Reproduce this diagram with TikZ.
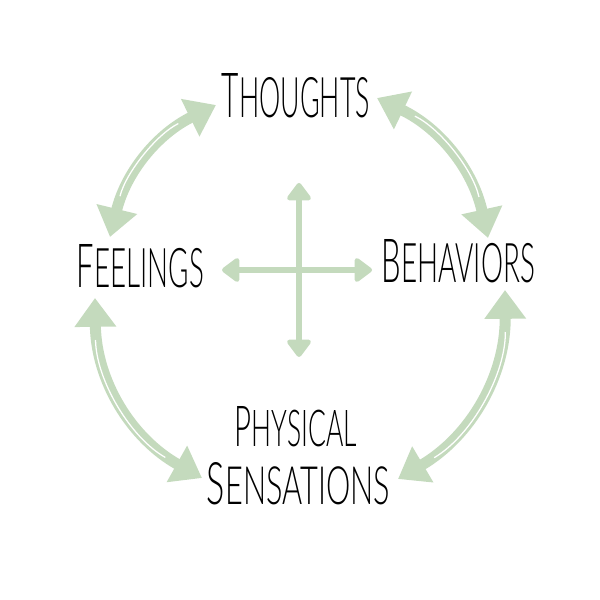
\documentclass[tikz,border=0pt]{standalone}
\usepackage{fontspec}
\setmainfont{Lato}[UprightFont={* Light}]
\usetikzlibrary{arrows.meta}
\definecolor{sage}{RGB}{196,218,189}
\newcommand{\capword}[4]{\resizebox{#3}{#4}{\fontsize{40}{40}\selectfont #1\fontsize{36}{36}\selectfont #2}}
\tikzset{
  lbl/.style={inner sep=0pt, outer sep=0pt, text=black},
  cyc/.style={draw=sage, line width=11*0.025cm, {Triangle[width=1.0cm,length=0.72cm]}-{Triangle[width=1.0cm,length=0.72cm]}},
  stripe/.style={draw=white, line width=0.9pt, shorten <=1.05cm, shorten >=1.05cm},
  cross/.style={draw=sage, line width=6.5*0.025cm, {Triangle[width=0.68cm,length=0.48cm,round]}-{Triangle[width=0.68cm,length=0.48cm,round]}}
}
\begin{document}
\begin{tikzpicture}[x=0.025cm,y=0.025cm]
\useasboundingbox (0,0) rectangle (600,600);
% labels
\node[lbl] (th) at (296,504) {\capword{T}{HOUGHTS}{3.7cm}{1.1cm}};
\node[lbl] (fe) at (140.5,333.5) {\capword{F}{EELINGS}{3.175cm}{1.075cm}};
\node[lbl] (be) at (458.5,338.5) {\capword{B}{EHAVIORS}{3.825cm}{1.075cm}};
\node[lbl] (ph) at (296,173) {\capword{P}{HYSICAL}{3.05cm}{1.0cm}};
\node[lbl] (se) at (298.5,116) {\capword{S}{ENSATIONS}{4.575cm}{1.05cm}};
% arc end points
\coordinate (a1) at (216,495);
\coordinate (a2) at (110,363);
\coordinate (b1) at (377,502);
\coordinate (b2) at (488,362);
\coordinate (c1) at (505,310);
\coordinate (c2) at (398,121);
\coordinate (d1) at (95,302);
\coordinate (d2) at (202,122);
\draw[cyc] (a1) to[bend right=25] (a2);
\draw[stripe] (a1) to[bend right=25] (a2);
\draw[cyc] (b1) to[bend left=26] (b2);
\draw[stripe] (b1) to[bend left=26] (b2);
\draw[cyc] (c1) to[bend left=30] (c2);
\draw[stripe] (c1) to[bend left=30] (c2);
\draw[cyc] (d1) to[bend right=30] (d2);
\draw[stripe] (d1) to[bend right=30] (d2);
% cross
\coordinate (ct) at (299,417);
\coordinate (cb) at (299,243);
\coordinate (cl) at (222,330);
\coordinate (cr) at (372,330);
\draw[cross] (ct) -- (cb);
\draw[cross] (cl) -- (cr);
\end{tikzpicture}
\end{document}
